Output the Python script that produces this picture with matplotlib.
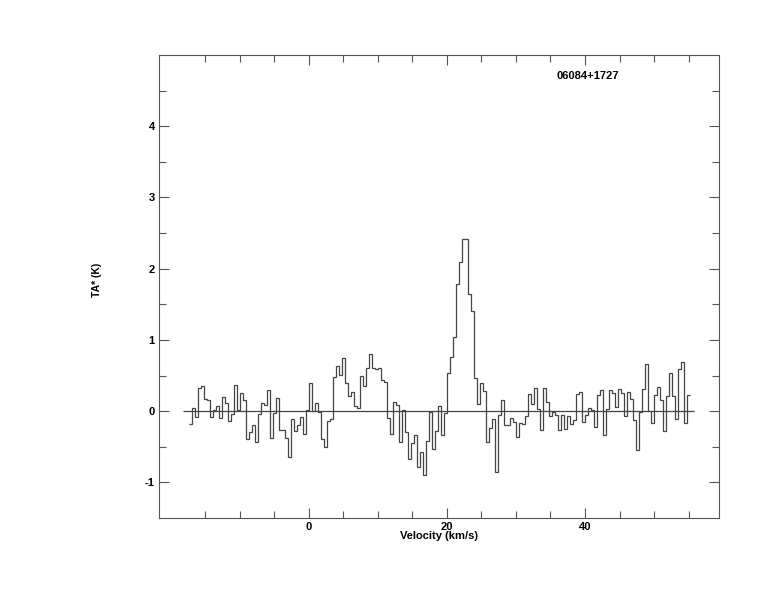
import numpy as np
import matplotlib
matplotlib.use('Agg')
import matplotlib.pyplot as plt
from matplotlib import rcParams

rcParams['font.family'] = ['Liberation Sans', 'DejaVu Sans']
rcParams['font.size'] = 8
rcParams['font.weight'] = 'bold'
rcParams['axes.unicode_minus'] = False

# channel grid of the spectrum (km/s)
v_start = -17.39
dv = 0.4348

# antenna temperature per channel (K)
ta = [
    -0.18, 0.04, -0.08, 0.32, 0.36, 0.17, 0.16, -0.08, 0.02, 0.07,
    -0.10, 0.20, 0.12, -0.14, -0.04, 0.37, 0.02, 0.26, 0.16, -0.39,
    -0.29, -0.19, -0.43, -0.04, 0.12, 0.09, 0.29, -0.37, -0.02, 0.18,
    -0.26, -0.26, -0.37, -0.64, -0.11, -0.28, -0.19, -0.08, -0.32, 0.02,
    0.40, 0.00, 0.11, -0.01, -0.39, -0.50, -0.14, -0.11, 0.48, 0.63,
    0.51, 0.74, 0.40, 0.21, 0.27, 0.07, 0.05, 0.49, 0.36, 0.60,
    0.80, 0.60, 0.59, 0.60, 0.44, 0.41, -0.09, -0.32, 0.13, 0.09,
    -0.43, 0.02, -0.29, -0.67, -0.45, -0.34, -0.78, -0.57, -0.90, -0.42,
    -0.01, -0.53, -0.28, 0.07, -0.33, -0.03, 0.53, 0.76, 1.04, 1.79,
    2.10, 2.41, 2.41, 1.64, 1.40, 0.46, 0.10, 0.39, 0.28, -0.43,
    -0.24, -0.11, -0.86, -0.05, 0.16, -0.20, -0.19, -0.10, -0.15, -0.36,
    -0.17, -0.18, -0.07, 0.24, 0.10, 0.32, 0.03, -0.26, 0.32, 0.13,
    -0.07, -0.01, -0.05, -0.26, -0.06, -0.25, -0.07, -0.18, -0.12, 0.24,
    0.27, -0.15, -0.05, 0.04, 0.02, -0.22, 0.23, 0.29, -0.33, 0.03,
    0.29, 0.26, 0.06, 0.31, 0.25, -0.07, 0.27, 0.17, -0.13, -0.54,
    -0.01, 0.31, 0.66, 0.00, -0.17, 0.23, 0.34, 0.16, -0.28, 0.21,
    0.54, 0.21, -0.11, 0.59, 0.69, -0.17, 0.23,
]
source = '06084+1727'

x_major = [0, 20, 40]
x_minor = [-15, -10, -5, 5, 10, 15, 25, 30, 35, 45, 50, 55]
y_major = [-1, 0, 1, 2, 3, 4]
y_minor = [-0.5, 0.5, 1.5, 2.5, 3.5, 4.5]

edges = v_start + dv * np.arange(len(ta) + 1)

fig = plt.figure(figsize=(7.74, 6.12), dpi=100)
ax = fig.add_axes([0.2054, 0.1536, 0.7235, 0.7565])

ax.stairs(ta, edges, baseline=None, color='#444444', linewidth=0.9)
ax.hlines(0, edges[0] - 0.9, edges[-1] + 0.6, color='#444444', linewidth=0.9)

ax.set_xlim(-21.7, 59.4)
ax.set_ylim(-1.5, 5.0)
ax.set_xticks(x_major)
ax.set_xticks(x_minor, minor=True)
ax.set_yticks(y_major)
ax.set_yticks(y_minor, minor=True)
ax.tick_params(which='both', direction='in', top=True, right=True,
               color='#555555', width=0.8, pad=3, labelsize=8)
ax.tick_params(which='major', length=7.5)
ax.tick_params(which='minor', length=5)
for lab in ax.get_xticklabels() + ax.get_yticklabels():
    lab.set_fontweight('bold')
for sp in ax.spines.values():
    sp.set_color('#555555')
    sp.set_linewidth(0.8)

ax.set_xlabel('Velocity (km/s)', fontweight='bold', fontsize=8, va='top')
ax.xaxis.set_label_coords(0.5, -0.028)
ax.set_ylabel('TA* (K)', fontweight='bold', fontsize=7.5)
ax.yaxis.set_label_coords(-0.102, 0.514)

ax.text(0.766, 0.955, source, transform=ax.transAxes, ha='center',
        va='center', fontweight='bold', fontsize=8)

plt.savefig('out.png', dpi=100)
